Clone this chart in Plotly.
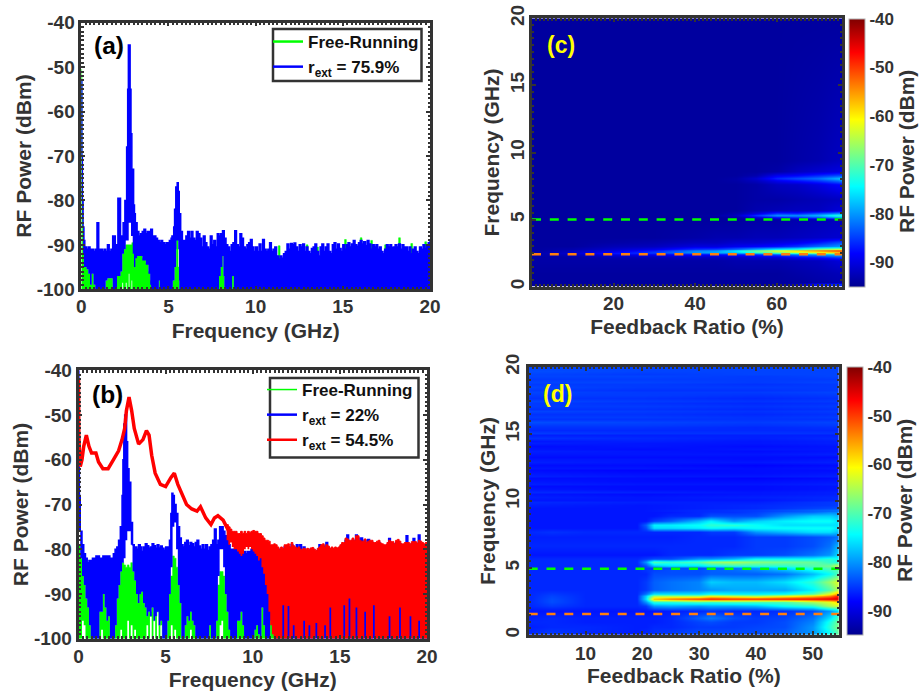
import numpy as np
import plotly.graph_objects as go

W, H = 919, 694
TICK_COLOR = "#333333"
TEXT = "#333333"
FONT = "Liberation Sans"
GREEN = "#00ff00"
BLUE = "#0000ff"
RED = "#ff0000"
ORANGE = "#ff7f0e"

X_TICKS_GHZ = [0, 5, 10, 15, 20]
POWER_TICKS = [-100, -90, -80, -70, -60, -50, -40]
POWER_LABELS = ["-100", "-90", "-80", "-70", "-60", "-50", "-40"]
CB_TICKS = [-90, -80, -70, -60, -50, -40]
CB_LABELS = ["-90", "-80", "-70", "-60", "-50", "-40"]

# ---------- panel (a) ----------
A_GREEN_F = [0,0.02,0.04,0.08,0.15,0.3,0.4,0.5,0.6,0.7,0.8,1.3,1.4,1.5,1.7,1.8,2.0,2.05,2.25,2.35,2.45,2.55,2.9,3.0,3.2,3.5,3.7,3.85,3.95,4.0,4.4,4.45,4.5,5.2,5.25,5.35,5.45,5.5,5.55,5.6,5.62,7.85,7.9,8.0,8.1,8.15,8.2,8.6,8.65,8.7,8.75,8.9,9.0,
             11.2,11.3,11.4,11.5,12.8,12.9,13.0,13.4,13.5,13.6,15.0,15.1,15.2,15.9,16.0,16.1,16.5,16.6,16.7,17.3,17.4,17.5,18.1,18.2,18.3,18.8,18.9,19.0,19.6,19.7,19.8,20]
A_GREEN_P = [-50.5,-52,-80,-92,-95,-95.5,-96.5,-99,-96.5,-99,-100,-100,-98,-97.5,-97.5,-100,-100,-97,-96,-92,-91,-90,-89.5,-92,-92,-93,-94,-96,-98,-100,-100,-98,-100,-100,-98,-95,-88.5,-88.5,-95,-98,-100,-100,-97,-95,-92.5,-97,-100,-100,-97,-97,-100,-100,-100,
             -94,-90.2,-94,-94,-94,-90,-94,-94,-90.5,-94,-94,-88.8,-94,-94,-88.4,-94,-94,-89,-94,-94,-90,-94,-94,-88.4,-94,-94,-89.7,-94,-94,-89.3,-94,-94]
A_GREEN_LO_F = [0,2.3,2.35,2.4,2.5,2.55,2.6,2.68,2.72,2.76,2.85,2.88,2.92,20]
A_GREEN_LO_P = [-100,-100,-98.5,-100,-100,-98.5,-100,-100,-96.5,-100,-100,-98,-100,-100]

A_BLUE_HEAD_F = [0,0.03,0.06,0.1,0.15,0.2,0.3,0.4,0.5,0.6,0.7,0.8,0.85,0.9,0.96,1.0,1.1,1.2,1.3,1.4,1.5,1.6,1.7,1.8,1.85,1.95,2.0,2.05,2.1,2.2,2.25,2.3,2.4,2.5,2.6,2.66,2.7,2.76,2.8,2.85,2.9,3.0,3.05,3.1,3.2]
A_BLUE_HEAD_P = [-53,-70,-80,-86,-89,-90.5,-91,-90.5,-91,-91,-91.5,-91,-91,-85,-85,-91,-91,-91.5,-91,-91.5,-90,-91.5,-91,-88,-88,-90,-91,-90,-79.5,-79.5,-90,-88,-85,-80,-68,-55,-45,-45,-55,-65,-73,-81,-83,-85,-87]
A_BLUE_MID_P = [-88,-87.5,-87,-86.5,-87.5,-87,-87,-86.5,-88,-88,-88.5,-89,-89.5,-89,-89.5,-90,-89.5,-89.5,-89,-88.5]   # 3.3 .. 5.15 GHz
A_BLUE_PK_F = [5.2,5.3,5.35,5.42,5.5,5.56,5.62,5.7,5.8]
A_BLUE_PK_P = [-88,-86,-82,-77,-76,-78,-83,-87,-89]
A_BLUE_TAIL_P = [   # 5.9 .. 20 GHz
    -89,
    -88,-87,-88.5,-87,-88.5,-89,-87,-87.5,-88.5,-90.5,
    -88,-89.5,-90.5,-91,-88,-90,-89,-90.5,-87.5,-88,
    -87.5,-86.8,-88.5,-90,-90.5,-91.5,-90,-89.5,-86.8,-90,
    -90.5,-87.5,-88.5,-90.5,-91,-90,-89.5,-88.8,-90.5,-91.5,
    -90.5,-91.5,-89.8,-91.5,-88.8,-91,-91.5,-91,-89.5,-91.5,
    -91,-90.5,-92.5,-93.2,-92.5,-93,-92,-91.5,-89.8,-91,
    -89.7,-90,-89.6,-90.5,-91.5,-90,-90.5,-89.8,-91.5,-90.5,
    -91.5,-92,-90.8,-90.5,-89.8,-91.5,-92.5,-90.5,-89.8,-91.5,
    -90.5,-89.8,-91.5,-92,-90,-89.5,-91,-89.8,-90.8,-91.5,
    -90,-91,-90,-89.5,-90.5,-89.8,-89,-90,-90.3,-89.5,
    -89,-89.8,-89.3,-90.2,-89,-89.8,-91,-90,-90.5,-90,
    -91,-90.5,-91.5,-92,-91,-90,-90.5,-90,-90.6,-90.5,
    -90,-90.5,-89.8,-91,-90,-90.5,-90.5,-91.5,-90.5,-92,
    -91,-90.5,-91.5,-92,-90.5,-91,-90,-90.8,-90,-89.5,
    -88.7]
A_BLUE_LO_F = [0,0.03,0.06,0.1,0.15,0.3,0.4,0.5,0.6,0.7,0.8,1.3,1.4,1.5,1.7,1.8,2.0,2.05,2.25,2.35,2.45,2.55,2.72,2.85,2.95,3.02,3.1,3.2,3.5,3.7,3.85,3.95,4.0,4.4,4.45,4.5,5.2,5.25,5.35,5.44,5.46,5.5,5.54,5.56,5.6,5.62,7.85,7.9,8.0,8.1,8.15,8.2,8.6,8.65,8.7,8.75,8.9,20]
A_BLUE_LO_P = [-53,-70,-84,-92,-95,-95.5,-96.5,-99,-96.5,-99,-100,-100,-98,-97.5,-97.5,-100,-100,-97,-96,-92,-91,-89,-85,-88,-92,-95,-93,-92.5,-93.5,-94.5,-96.5,-99,-100,-100,-98,-100,-100,-98,-95,-91,-89,-89,-89,-91,-98,-100,-100,-97,-95,-92.5,-97,-100,-100,-97,-97,-100,-100,-100]

# ---------- panel (b) ----------
B_GRID_F = [round(i * 0.1, 1) for i in range(121)]   # 0 .. 12 GHz
B_GREEN_P = [
    -79,-82,-86,-88,-91,-93,-97,-100,-100,-100,
    -100,-100,-94,-94,-90,-93,-96,-95,-100,-100,
    -100,-97,-91,-88,-85,-83,-83.5,-84,-83.5,-84,
    -83,-85,-87,-90,-92,-90,-89.5,-92,-93,-95,
    -94,-95,-93,-96,-95,-94,-97,-96,-100,-100,
    -100,-96,-90,-86,-81.5,-82,-84,-88,-92,-100,
    -100,-97,-95,-96,-94,-96,-97,-100,-100,-100,
    -100,-100,-100,-100,-100,-97,-100,-100,-100,-96,
    -88,-85,-85,-86,-90,-94,-98,-100,-100,-100,
    -100,-96,-96,-94,-97,-100,-100,-100,-100,-100,
    -100,-98,-97,-99,-100,-93,-97,-100,-100,-100,
    -96,-96,-99,-100,-100,-98,-100,-100,-100,-100,
    -100]
B_GREEN_LO_P = [
    -100,-100,-96,-97,-100,-100,-100,-100,-100,-100,
    -100,-100,-100,-98,-100,-100,-100,-100,-100,-100,
    -100,-100,-100,-100,-98,-100,-100,-100,-96,-100,
    -97,-100,-98,-100,-100,-100,-100,-100,-100,-97,
    -100,-94,-100,-96,-100,-92,-100,-97,-100,-100,
    -100,-100,-100,-97,-100,-98,-100,-100,-100,-100,
    -100,-100,-100,-100,-98,-100,-100,-100,-100,-100,
    -100,-100,-100,-100,-100,-100,-100,-100,-100,-100,
    -100,-97,-96,-100,-100,-100,-100,-100,-100,-100,
    -100,-100,-100,-100,-100,-100,-100,-100,-100,-100,
    -100,-100,-100,-100,-100,-100,-100,-100,-100,-100,
    -100,-100,-100,-100,-100,-100,-100,-100,-100,-100,
    -100]
B_BLUE_LO_P = [
    -76,-82,-86,-88,-91,-93,-97,-100,-100,-100,
    -100,-100,-94,-94,-90,-93,-96,-95,-100,-100,
    -100,-97,-91,-88,-85,-83,-82,-78,-76,-76,
    -79,-85,-87,-90,-92,-90,-89.5,-92,-93,-95,
    -94,-95,-93,-96,-95,-94,-97,-96,-100,-100,
    -100,-96,-90,-84,-75,-74,-80,-88,-92,-100,
    -100,-97,-95,-96,-94,-96,-97,-100,-100,-100,
    -100,-100,-100,-100,-100,-97,-100,-100,-100,-96,
    -86,-80,-80,-84,-90,-94,-98,-100,-100,-100,
    -100,-96,-96,-94,-97,-100,-100,-100,-100,-100,
    -100,-98,-97,-99,-100,-93,-97,-100,-100,-100,
    -96,-96,-99,-100,-100,-98,-100,-100,-100,-100,
    -100]
B_BLUE_HEAD_F = [0,0.02,0.05,0.1,0.2,0.3,0.4,0.5,0.6,0.8,1.0,1.2,1.4,1.6,1.8,2.0,2.1,2.2,2.3,2.4,2.5,2.55,2.6,2.65,2.72,2.76,2.82,2.9,3.0,3.1,3.2]
B_BLUE_HEAD_P = [-40,-55,-68,-76,-79,-81,-82,-83,-82.5,-82,-81.5,-82,-81.5,-81.5,-82,-81,-80,-79.5,-78,-75,-68,-60,-52,-50,-50,-56,-62,-65,-74,-79,-80]
B_BLUE_MID_P = [-79.5,-80,-79,-79.5,-80.5,-79.5,-78.8,-79.2,-79.8,-79.5,-78.8,-79.2,-79.8,-79,-79.7,-79.3,-79.8,-80.2,-79.5,-80]   # 3.25 .. 5.1
B_BLUE_PK_F = [5.15,5.22,5.3,5.36,5.42,5.5,5.6,5.7,5.8]
B_BLUE_PK_P = [-79.5,-78,-72,-67.5,-68,-70,-72,-75,-77.5]
B_BLUE_MID2_P = [-79,-79.5,-78.5,-78,-79.2,-78.5,-78.8,-79.5,-78.5,-78,-79.3,-80,-79,-80,-79,-80.3,-79.5,-79]   # 5.9 .. 7.6
B_BLUE_TAIL_P = [   # 7.7 .. 20 GHz
    -78,-75.5,-79,
    -78,-75,-75,-76,-77,-78,-79,-80,-80,-80,
    -80,-80.5,-80.5,-80,-80.5,-80.5,-81,-80.5,-80.5,-80,
    -80.5,-80.5,-81,-80.5,-81,-80.5,-81,-81,-80.5,-81,
    -80.5,-80.5,-80.5,-80,-80.5,-80,-80,-80.2,-79.5,-79.5,
    -79.5,-79.8,-79,-79.7,-80,-79,-80,-79,-80.5,-79.5,
    -80.5,-80.3,-80.5,-80,-80,-80.5,-81,-80.3,-79,-79.5,
    -79.3,-80,-78.5,-79.8,-80.3,-80,-80.3,-80,-80.2,-80,
    -79.5,-79,-79,-78,-76.8,-78.5,-78.5,-78,-78.5,-76.8,
    -77.5,-78.5,-77.5,-78.7,-78,-79,-77.8,-78.5,-78.5,-79,
    -79,-78.7,-78.5,-79,-79.3,-79.5,-79.5,-79,-77.6,-78.8,
    -78.8,-79.3,-78.5,-78.3,-78.8,-79.3,-79.3,-79,-77,-79,
    -79.3,-78.8,-77.6,-78.8,-79.1,-76.8,-78.7,-79,-79.3,-79,
    -80.5]
B_RED_LINE_F = [0,0.02,0.1,0.2,0.3,0.45,0.6,0.75,1.0,1.15,1.4,1.7,2.0,2.3,2.5,2.65,2.75,2.9,3.05,3.2,3.45,3.7,3.9,4.05,4.2,4.4,4.7,5.0,5.3,5.5,5.7,6.0,6.2,6.5,6.8,7.0,7.3,7.6,7.8,8.0,8.3,8.5,8.7]
B_RED_LINE_P = [-42,-55,-61.5,-60,-57,-54.5,-57,-58.5,-58.5,-60.5,-62,-62,-60,-58,-55.5,-53,-49,-46,-49,-53,-56.5,-55.5,-53.5,-54.5,-59,-63,-65.5,-66,-64,-63,-65.5,-68,-70,-71,-71.5,-70.5,-73,-74.5,-73,-72.5,-73.5,-75,-76.5]
B_RED_UP_P = [   # 8.5 .. 20 GHz
    -74.5,-75,-75.5,-76,-76,
    -76,-76.5,-76.5,-76,-76.5,-76,-76.5,-76,-76.2,-76,
    -75.8,-76,-76,-76.5,-76.5,-77,-77.5,-78,-78,-78.2,
    -79,-79,-78.8,-79,-79.5,-80,-79.5,-79.8,-79,-79,
    -78.8,-79.5,-78.5,-79.2,-79.5,-79.8,-79.5,-80,-80,-79.8,
    -80,-79.8,-80,-79.7,-79.6,-80,-80.3,-79.8,-79.5,-79,
    -78.8,-79.5,-79,-79.3,-79.8,-79.5,-79.8,-79.5,-79.7,-79.5,
    -79,-78.5,-78.5,-77.5,-77.7,-78,-78,-77.5,-78,-77,
    -77,-78,-78.2,-78.2,-77.7,-78.5,-78.2,-78,-78,-78.5,
    -78.5,-78.2,-78,-78.6,-78.8,-79,-79,-78.5,-78,-78.3,
    -78.3,-78.8,-78,-77.8,-78.2,-78.8,-78.8,-78.5,-78.5,-78.5,
    -78.8,-78.3,-78.3,-78.3,-78.6,-78,-78.2,-78.5,-78.8,-78.5,
    -80]
B_RED_LO_P = [   # 8.5 .. 20 GHz
    -78,-79,-78.5,-79.5,-80,
    -80,-80.5,-81,-81.5,-81,-80,-79.5,-80,-79.5,-80,
    -80.5,-81,-81.5,-82.5,-82,-84,-85.5,-88,-90,-94,
    -97,-99,-100,-100,-100,-100,-100,-92.5,-100,-100,
    -92.7,-100,-100,-97,-100,-100,-100,-100,-100,-96,
    -100,-100,-97,-100,-100,-100,-96.5,-100,-100,-100,
    -100,-97,-100,-100,-93,-100,-100,-100,-100,-100,
    -100,-100,-92.5,-100,-100,-91,-100,-100,-100,-93,
    -100,-100,-100,-100,-94,-100,-100,-100,-100,-92.5,
    -100,-100,-100,-100,-100,-100,-100,-100,-95,-100,
    -100,-100,-100,-100,-93,-100,-100,-100,-100,-100,
    -95,-100,-100,-100,-100,-96,-100,-100,-100,-100,
    -100]

# ---------- panel (c) ----------
C_RATIO = [0,10,20,30,40,45,50,55,60,65,70,75,76]
C_FREQ = [0,0.15,0.3,1.0,2.0,2.2,2.4,2.5,2.6,2.7,2.8,2.9,3.0,3.3,3.7,5.0,5.2,5.35,5.5,5.7,6.5,7.6,7.9,8.1,8.3,8.6,9.4,20]
C_POWER = [
 [-94,-94,-94,-94,-94,-94,-94,-94,-94,-93.5,-92,-90,-90],
 [-94,-94,-94,-94,-94,-94,-94,-94,-94,-92,-86,-84,-84],
 [-94,-94,-94,-94,-94,-94,-94,-94,-94,-94,-93.5,-93,-93],
 [-94,-94,-94,-94,-94,-94,-94,-94,-94,-93.5,-93,-92.5,-92.5],
 [-93.5,-93.5,-93.5,-93.5,-93.5,-93.5,-93,-93,-93,-92.5,-92,-90.5,-90.5],
 [-93.5,-93.5,-92.5,-92.5,-92,-92,-92,-91,-90.5,-88.5,-87.5,-85.5,-85.5],
 [-93.5,-92,-90,-89,-88,-88,-87,-86,-84,-82,-80,-78,-78],
 [-93.5,-91,-87,-86,-84,-83,-82,-80,-76,-74,-70,-68,-68],
 [-93.5,-91.5,-88,-85,-80,-79,-77,-72,-68,-64,-62,-58,-58],
 [-94,-92,-90,-87,-81,-80,-75,-68,-62,-58,-54,-50,-50],
 [-94,-93,-91,-89,-85,-84,-82,-78,-74,-72,-66,-62,-62],
 [-94,-93.5,-92,-91,-88,-88,-86,-84,-82,-80,-76,-74,-74],
 [-94,-94,-92.5,-92,-90,-90,-89,-88,-87,-85,-82,-80,-79],
 [-94,-94,-93.5,-93,-92,-92,-91,-91,-90,-89,-87,-84,-84],
 [-94,-94,-94,-94,-93.5,-93,-93,-92.5,-92.5,-92,-91.5,-91,-91],
 [-94,-94,-94,-94,-94,-94,-94,-93.5,-93.5,-93,-92.5,-92,-92],
 [-94,-94,-94,-94,-94,-94,-93.5,-91,-88,-86,-84,-80,-80],
 [-94,-94,-94,-94,-94,-93.5,-92,-85,-80,-80,-78,-72,-72],
 [-94,-94,-94,-94,-94,-94,-93,-90,-85,-86,-83,-80,-80],
 [-94,-94,-94,-94,-94,-94,-94,-93,-92.5,-92,-92,-90.5,-90.5],
 [-94,-94,-94,-94,-94,-94,-94,-93.5,-93.5,-93,-92.5,-92,-92],
 [-94,-94,-94,-94,-94,-94,-94,-93.5,-92,-91.5,-90,-88,-88],
 [-94,-94,-94,-94,-94,-94,-93.5,-92,-89,-87,-85,-82,-80],
 [-94,-94,-94,-94,-94,-94,-93.5,-91,-86,-84,-82,-78,-76],
 [-94,-94,-94,-94,-94,-94,-94,-93,-89,-88,-86,-84,-84],
 [-94,-94,-94,-94,-94,-94,-94,-94,-93.5,-92,-91,-90,-90],
 [-94,-94,-94,-94,-94,-94,-94,-94,-94,-93.5,-93,-92,-92],
 [-94,-94,-94,-94,-94,-94,-94,-94,-94,-94,-94,-94,-94],
]

# ---------- panel (d) ----------
D_RATIO = [0,4,10,19,20.5,22,25,30,32,36,40,45,50,53,54.6]
D_FREQ = [0,0.2,0.6,1.0,1.3,1.8,2.2,2.5,2.7,2.9,3.1,3.4,4.0,4.6,5.0,5.2,5.45,5.7,6.0,6.7,7.3,7.7,8.0,8.2,8.5,8.9,9.3]
D_POWER = [
 [-86,-86,-86,-86,-86,-86,-85,-85,-85,-84,-84,-83,-79,-70,-66],
 [-86,-85,-86,-86.5,-86,-85.5,-85,-84,-84,-84,-84,-83,-80,-74,-69],
 [-86.5,-86,-86,-86.5,-86.5,-86,-86,-85,-85,-85,-84.5,-84,-80,-72,-67],
 [-86,-86,-86.5,-86.5,-86.5,-86.5,-86,-84.5,-84,-85,-85,-84,-81,-73,-68],
 [-86.5,-86,-86.5,-86.5,-86.5,-86.5,-86,-83,-81.5,-84,-85,-84.5,-82,-76,-70],
 [-87,-87,-87,-87,-87,-87,-86.5,-86,-85.5,-86,-86,-85.5,-84,-80,-76],
 [-86,-85,-86,-86,-85,-80,-79,-80,-79,-79,-78,-74,-72,-65,-63],
 [-86,-84,-86,-86,-80,-72,-72,-70,-71,-70,-70,-70,-65,-62,-58],
 [-86,-84,-86,-86,-76,-57,-53,-50,-48,-49,-49,-48,-47,-45.5,-45],
 [-86,-84.5,-86,-86,-77,-66,-66,-66,-62,-64,-66,-62,-58,-54,-48],
 [-86,-85,-86,-86,-82,-76,-76,-76,-74,-75,-75,-74,-70,-62,-55],
 [-86,-86,-86,-86,-85,-83,-82,-81,-80,-79,-79,-79,-75,-70,-64],
 [-86,-86,-86,-86,-85,-83,-82,-81,-77,-78,-78,-76,-72,-66,-62],
 [-86,-86,-86,-86,-86,-84,-84,-84,-83,-83,-83,-82,-78,-74,-70],
 [-86,-86,-86,-86,-85,-85,-84,-84,-83,-82,-80,-76,-72,-70,-70],
 [-86,-86,-86,-86,-84,-78,-76,-76,-74,-72,-72,-72,-70,-68,-63],
 [-86,-86,-86,-86,-80,-70,-72,-70,-66,-65,-67,-68,-69,-72,-73],
 [-86,-86,-86,-86,-85,-84,-84,-80,-80,-78,-74,-74,-74,-72,-74],
 [-87,-87,-87,-87,-87,-87,-86,-86,-86,-85,-85,-84,-82,-80,-76],
 [-86,-86,-86,-86,-86,-86,-86,-86,-86,-86,-85,-85,-84,-82,-78],
 [-86.5,-86.5,-86.5,-86.5,-86.5,-86.5,-86.5,-86,-86,-86,-85,-85,-84,-83,-82],
 [-86,-85.5,-86,-86,-86,-86,-86,-86,-85,-85,-80,-78,-76,-76,-78],
 [-87,-87,-87,-87,-84,-76,-76,-75,-74,-75,-74,-74,-74,-74,-76],
 [-87,-87,-87,-87,-83,-75,-75,-74,-72,-72,-74,-76,-76,-76,-76],
 [-87,-87,-87,-87,-87,-85,-83,-78,-75,-80,-77,-75,-74,-74,-76],
 [-87,-87,-87,-87,-87,-87,-86,-86,-84,-84,-84,-80,-77,-77,-78],
 [-87,-87,-87,-87,-87,-87,-87,-86,-86,-86,-85,-84,-84,-82,-82],
]
D_TOP_RATIO = [0,20,40,54.6]
D_TOP_FREQ = [9.3,9.5,9.7,9.9,10.1,10.3,10.5,10.7,10.9,11.1,11.3,11.5,11.7,11.9,12.1,12.3,12.5,12.7,12.9,13.1,13.3,13.5,13.7,13.9,14.1,14.3,14.5,14.7,14.9,15.1,15.3,15.5,15.7,15.9,16.1,16.3,16.5,16.7,16.9,17.1,17.3,17.5,17.7,17.9,18.1,18.3,18.5,18.7,18.9,19.1,19.3,19.5,19.7,20]
D_TOP_POWER = [
 [-87,-87,-85,-82],
 [-87,-87,-86,-84],[-86.5,-87,-86,-85],[-86,-86.5,-86.5,-85],[-87,-87,-87,-86],[-86.5,-87,-86.5,-86],
 [-87,-87.5,-87,-86.5],[-86,-86.5,-87,-86.5],[-87,-87.5,-87.5,-87],[-87.5,-87.5,-87.5,-87],[-86.5,-87,-87,-86.5],
 [-87,-87.5,-87.5,-87],[-87.5,-87.5,-88,-87.5],[-86.5,-87,-87,-86.5],[-87,-87.5,-87.5,-87],[-87.5,-88,-87.5,-87.5],
 [-87,-87,-87.5,-87],[-87.5,-87.5,-88,-87.5],[-86.5,-87,-87,-86.5],[-87,-87,-87.5,-87],[-87.5,-87.5,-87.5,-87.5],
 [-87,-87,-87,-86.5],[-86.5,-87,-87.5,-87],[-87,-87.5,-87,-87],[-87.5,-87,-87.5,-87],[-86.5,-87,-87,-86.5],
 [-87,-86.5,-87,-86.5],[-85.5,-86,-86.5,-86],[-86.5,-86.5,-86.5,-86.5],[-85,-85.5,-85.5,-85.5],[-86,-86,-86,-86],
 [-85.5,-85.5,-86,-85.5],[-85,-85,-85.5,-85],[-84,-84.5,-85,-84.5],[-85.5,-85.5,-85.5,-85.5],[-85,-85,-85.5,-85],
 [-85.5,-85.5,-86,-85.5],[-84.5,-85,-85.5,-85],[-85.5,-85.5,-86,-85.5],[-85,-85,-85.5,-85],[-85,-85.5,-86,-85.5],
 [-84.5,-85,-85.5,-85],[-85.5,-85.5,-86,-85.5],[-85,-85,-85.5,-85],[-84.5,-85,-85,-84.5],[-85,-85.5,-85.5,-85],
 [-84.5,-85,-85,-85],[-85,-85,-85.5,-85],[-84.5,-84.5,-85,-84.5],[-85,-85,-85,-85],[-84.5,-84.5,-85,-84.5],
 [-84.5,-85,-84.5,-84.5],[-84,-84.5,-84.5,-84.5],[-84.5,-84.5,-84.5,-84.5],
]

C_GREEN_LINE = 5.0
C_ORANGE_LINE = 2.41
D_GREEN_LINE = 4.95
D_ORANGE_LINE = 1.57

JET = [[0, "rgb(0,0,143)"], [0.125, "rgb(0,0,255)"], [0.375, "rgb(0,255,255)"],
       [0.625, "rgb(255,255,0)"], [0.875, "rgb(255,0,0)"], [1, "rgb(128,0,0)"]]


def even(a, b, vals):
    return np.linspace(a, b, len(vals)).tolist()


def dx(l, r):
    return [l / W, r / W]


def dy(t, b):
    return [1 - b / H, 1 - t / H]


fig = go.Figure()


def band(xl, yl, xu, yu, color, lw, ax, ay):
    fig.add_trace(go.Scatter(x=xl, y=yl, mode="lines", line=dict(width=0, color=color, shape="hv"),
                             showlegend=False, hoverinfo="skip", xaxis=ax, yaxis=ay))
    fig.add_trace(go.Scatter(x=xu, y=yu, mode="lines", line=dict(width=lw, color=color, shape="hv"),
                             fill="tonexty", fillcolor=color, showlegend=False,
                             hoverinfo="skip", xaxis=ax, yaxis=ay))


def key(name, color, lw, ax, ay, legend):
    fig.add_trace(go.Scatter(x=[None], y=[None], mode="lines", name=name,
                             line=dict(width=lw, color=color), xaxis=ax, yaxis=ay, legend=legend))


# (a)
band(A_GREEN_LO_F, A_GREEN_LO_P, A_GREEN_F, A_GREEN_P, GREEN, 0.5, "x", "y")
a_blue_f = (A_BLUE_HEAD_F + even(3.3, 5.15, A_BLUE_MID_P) + A_BLUE_PK_F + even(5.9, 20, A_BLUE_TAIL_P))
a_blue_p = A_BLUE_HEAD_P + A_BLUE_MID_P + A_BLUE_PK_P + A_BLUE_TAIL_P
band(A_BLUE_LO_F, A_BLUE_LO_P, a_blue_f, a_blue_p, BLUE, 1.5, "x", "y")
key("Free-Running", GREEN, 2.5, "x", "y", "legend")
key("r<sub>ext</sub> = 75.9%", BLUE, 2.5, "x", "y", "legend")

# (b)
band(B_GRID_F, B_GREEN_LO_P, B_GRID_F, B_GREEN_P, GREEN, 0.5, "x2", "y2")
b_blue_f = (B_BLUE_HEAD_F + even(3.25, 5.1, B_BLUE_MID_P) + B_BLUE_PK_F + even(5.9, 7.6, B_BLUE_MID2_P)
            + even(7.7, 20, B_BLUE_TAIL_P))
b_blue_p = B_BLUE_HEAD_P + B_BLUE_MID_P + B_BLUE_PK_P + B_BLUE_MID2_P + B_BLUE_TAIL_P
band(B_GRID_F + [20], B_BLUE_LO_P + [-100], b_blue_f, b_blue_p, BLUE, 1.5, "x2", "y2")
band(even(8.5, 20, B_RED_LO_P), B_RED_LO_P, even(8.5, 20, B_RED_UP_P), B_RED_UP_P, RED, 1, "x2", "y2")
fig.add_trace(go.Scatter(x=B_RED_LINE_F, y=B_RED_LINE_P, mode="lines", line=dict(width=3.5, color=RED),
                         showlegend=False, hoverinfo="skip", xaxis="x2", yaxis="y2"))
key("Free-Running", GREEN, 1.5, "x2", "y2", "legend2")
key("r<sub>ext</sub> = 22%", BLUE, 2.5, "x2", "y2", "legend2")
key("r<sub>ext</sub> = 54.5%", RED, 2.5, "x2", "y2", "legend2")

# (c)
fig.add_trace(go.Heatmap(x=C_RATIO, y=C_FREQ, z=C_POWER, coloraxis="coloraxis", zsmooth="best",
                         xaxis="x3", yaxis="y3", hoverinfo="skip"))
for val, col in ((C_GREEN_LINE, GREEN), (C_ORANGE_LINE, ORANGE)):
    fig.add_trace(go.Scatter(x=[C_RATIO[0], C_RATIO[-1]], y=[val, val], mode="lines",
                             line=dict(color=col, width=2.5, dash="9px,8.8px"), showlegend=False,
                             hoverinfo="skip", xaxis="x3", yaxis="y3"))

# (d)
fig.add_trace(go.Heatmap(x=D_RATIO, y=D_FREQ, z=D_POWER, coloraxis="coloraxis2", zsmooth="best",
                         xaxis="x4", yaxis="y4", hoverinfo="skip"))
fig.add_trace(go.Heatmap(x=D_TOP_RATIO, y=D_TOP_FREQ, z=D_TOP_POWER,
                         coloraxis="coloraxis2", zsmooth="best", xaxis="x4", yaxis="y4", hoverinfo="skip"))
for val, col in ((D_GREEN_LINE, GREEN), (D_ORANGE_LINE, ORANGE)):
    fig.add_trace(go.Scatter(x=[D_RATIO[0], D_RATIO[-1]], y=[val, val], mode="lines",
                             line=dict(color=col, width=2.5, dash="9px,8.8px"), showlegend=False,
                             hoverinfo="skip", xaxis="x4", yaxis="y4"))


def axis(domain, rng, tickvals, ticktext, title, minor, anchor, standoff, tickangle=None, size=19, label_shift=0):
    d = dict(domain=domain, range=rng, tickmode="array", tickvals=tickvals, ticktext=ticktext,
             ticks="inside", ticklen=4, tickwidth=2, tickcolor=TICK_COLOR, ticklabelstandoff=label_shift,
             showline=True, mirror="allticks", linewidth=2.5, linecolor=TICK_COLOR,
             showgrid=False, zeroline=False, anchor=anchor, layer="above traces",
             tickfont=dict(family=FONT, size=size, color=TEXT, weight="bold"),
             title=dict(text=title, standoff=standoff, font=dict(family=FONT, size=21, color=TEXT, weight="bold")),
             minor=dict(dtick=minor, tick0=0, ticks="inside", ticklen=2.5, tickwidth=2, tickcolor=TICK_COLOR, showgrid=False))
    if tickangle is not None:
        d["tickangle"] = tickangle
    return d


def s(v):
    return [str(i) for i in v]


def colorbar(left, top, bottom):
    return dict(x=left / W, xanchor="left", thickness=16, thicknessmode="pixels",
                y=1 - bottom / H, yanchor="bottom", len=bottom - top, lenmode="pixels",
                outlinecolor="#b0b0b0", outlinewidth=1, ticks="", tickmode="array", tickvals=CB_TICKS,
                ticktext=CB_LABELS, tickfont=dict(family=FONT, size=17, color=TEXT, weight="bold"), ypad=0, xpad=0)


def legend(left, top):
    return dict(x=left / W, xanchor="left", y=1 - top / H, yanchor="top", bgcolor="rgba(0,0,0,0)",
                borderwidth=0, entrywidth=100, entrywidthmode="pixels", traceorder="normal",
                font=dict(family=FONT, size=17, color="#111111", weight="bold"), tracegroupgap=0, itemwidth=30)


ann_font = lambda col, size: dict(family=FONT, size=size, color=col, weight="bold")
annotations = [
    dict(text="(a)", x=109 / W, y=1 - 45 / H, font=ann_font("black", 24.5)),
    dict(text="(b)", x=107 / W, y=1 - 394 / H, font=ann_font("black", 24.5)),
    dict(text="(c)", x=561 / W, y=1 - 45 / H, font=ann_font("#ffff00", 23)),
    dict(text="(d)", x=557 / W, y=1 - 394 / H, font=ann_font("#ffff00", 23)),
    dict(text="RF Power (dBm)", x=906 / W, y=1 - 152 / H, textangle=-90, font=ann_font(TEXT, 21)),
    dict(text="RF Power (dBm)", x=904 / W, y=1 - 501 / H, textangle=-90, font=ann_font(TEXT, 21)),
]
for a in annotations:
    a.update(xref="paper", yref="paper", showarrow=False, xanchor="center", yanchor="middle")


def box(l, t, r, b):
    return dict(type="rect", xref="paper", yref="paper", x0=l / W, x1=r / W, y0=1 - b / H, y1=1 - t / H,
                fillcolor="white", line=dict(color=TICK_COLOR, width=2.5), layer="above")


fig.update_layout(
    width=W, height=H, autosize=False, margin=dict(l=0, r=0, t=0, b=0, autoexpand=False),
    paper_bgcolor="white", plot_bgcolor="white",
    xaxis=axis(dx(81.3, 430), [0, 20], X_TICKS_GHZ, s(X_TICKS_GHZ), "Frequency (GHz)", 0.25, "y", 8, label_shift=-2),
    yaxis=axis(dy(22.7, 289.3), [-100, -40], POWER_TICKS, POWER_LABELS, "RF Power (dBm)", 1, "x", 0),
    xaxis2=axis(dx(78.5, 427), [0, 20], X_TICKS_GHZ, s(X_TICKS_GHZ), "Frequency (GHz)", 0.25, "y2", 7, label_shift=-1),
    yaxis2=axis(dy(370.3, 638.7), [-100, -40], POWER_TICKS, POWER_LABELS, "RF Power (dBm)", 1, "x2", 0),
    xaxis3=axis(dx(532, 842), [0, 76], [20, 40, 60], ["20", "40", "60"], "Feedback Ratio (%)", 1, "y3", 7, label_shift=-2),
    yaxis3=axis(dy(18.3, 286.7), [0, 20], X_TICKS_GHZ, s(X_TICKS_GHZ), "Frequency (GHz)", 0.5, "x3", 2, tickangle=-90, label_shift=-2),
    xaxis4=axis(dx(528.7, 839), [0, 54.6], [10, 20, 30, 40, 50], ["10", "20", "30", "40", "50"], "Feedback Ratio (%)", 0.77, "y4", 6, label_shift=-1),
    yaxis4=axis(dy(367, 635), [0, 20], X_TICKS_GHZ, s(X_TICKS_GHZ), "Frequency (GHz)", 0.5, "x4", 1, tickangle=-90, label_shift=-1),
    coloraxis=dict(colorscale=JET, cmin=-95, cmax=-40, colorbar=colorbar(849.3, 18.3, 286.7)),
    coloraxis2=dict(colorscale=JET, cmin=-95, cmax=-40, colorbar=colorbar(846.7, 367, 635)),
    legend=legend(268, 24),
    legend2=legend(262, 372),
    annotations=annotations,
    shapes=[box(273, 29, 421.5, 81), box(270, 378, 418.5, 457.5)],
)

assert len(A_GREEN_F) == len(A_GREEN_P), (len(A_GREEN_F), len(A_GREEN_P))
assert len(A_GREEN_LO_F) == len(A_GREEN_LO_P)
assert len(A_BLUE_HEAD_F) == len(A_BLUE_HEAD_P), (len(A_BLUE_HEAD_F), len(A_BLUE_HEAD_P))
assert len(A_BLUE_LO_F) == len(A_BLUE_LO_P), (len(A_BLUE_LO_F), len(A_BLUE_LO_P))
assert len(B_BLUE_HEAD_F) == len(B_BLUE_HEAD_P), (len(B_BLUE_HEAD_F), len(B_BLUE_HEAD_P))
assert len(B_RED_LINE_F) == len(B_RED_LINE_P), (len(B_RED_LINE_F), len(B_RED_LINE_P))
assert len(B_GREEN_P) == 121 and len(B_BLUE_LO_P) == 121 and len(B_GREEN_LO_P) == 121
assert all(len(r) == len(C_RATIO) for r in C_POWER) and len(C_POWER) == len(C_FREQ), (len(C_POWER), len(C_FREQ))
assert all(len(r) == len(D_RATIO) for r in D_POWER) and len(D_POWER) == len(D_FREQ), (len(D_POWER), len(D_FREQ))
assert len(D_TOP_POWER) == len(D_TOP_FREQ), (len(D_TOP_POWER), len(D_TOP_FREQ))

fig.write_html("out.html", config={"displayModeBar": False}, post_script="document.body.style.margin='0';")
